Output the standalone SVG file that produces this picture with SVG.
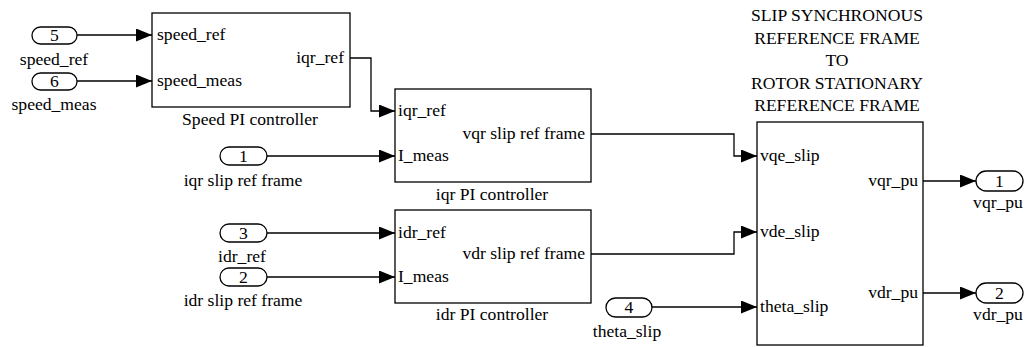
<svg xmlns="http://www.w3.org/2000/svg" width="1028" height="347" viewBox="0 0 1028 347" font-family="'Liberation Serif', 'Times New Roman', 'DejaVu Serif', serif">
<style>
text{font-family:'Liberation Serif','Times New Roman','DejaVu Serif',serif;font-size:17.6px;font-weight:normal;fill:#000}
.c{text-anchor:middle}
.r{text-anchor:end}
.box{fill:#fff;stroke:#000;stroke-width:1.3}
.pill{fill:#fff;stroke:#000;stroke-width:1.3}
.w{fill:none;stroke:#000;stroke-width:1.3}
</style>
<defs>
<marker id="ah" markerUnits="userSpaceOnUse" markerWidth="16" markerHeight="13" refX="16" refY="6.5" orient="auto">
<path d="M0,0 L16,6.5 L0,13 z" fill="#000"/>
</marker>
</defs>
<rect width="1028" height="347" fill="#fff"/>
<g id="connectors">
<path class="w" marker-end="url(#ah)" d="M77,35 H152"/>
<path class="w" marker-end="url(#ah)" d="M77,81 H152"/>
<path class="w" marker-end="url(#ah)" d="M350,58 H371 V111 H395"/>
<path class="w" marker-end="url(#ah)" d="M267,156 H395"/>
<path class="w" marker-end="url(#ah)" d="M267,233 H395"/>
<path class="w" marker-end="url(#ah)" d="M267,277 H395"/>
<path class="w" marker-end="url(#ah)" d="M591,134 H734 V156 H757"/>
<path class="w" marker-end="url(#ah)" d="M591,254 H734 V232 H757"/>
<path class="w" marker-end="url(#ah)" d="M652,307 H757"/>
<path class="w" marker-end="url(#ah)" d="M923,181 H976"/>
<path class="w" marker-end="url(#ah)" d="M923,293 H976"/>
</g>
<g id="in5">
<rect class="pill" x="32" y="27" width="45" height="17" rx="8.5"/>
<text class="c" x="54.5" y="41">5</text>
<text class="c" x="54" y="65">speed_ref</text>
</g>
<g id="in6">
<rect class="pill" x="32" y="73" width="45" height="17" rx="8.5"/>
<text class="c" x="54.5" y="87">6</text>
<text class="c" x="54" y="110">speed_meas</text>
</g>
<g id="in1">
<rect class="pill" x="220" y="147" width="47" height="18" rx="9"/>
<text class="c" x="243.5" y="162">1</text>
<text class="c" x="243" y="186">iqr slip ref frame</text>
</g>
<g id="in3">
<rect class="pill" x="220" y="224" width="47" height="18" rx="9"/>
<text class="c" x="243.5" y="239">3</text>
<text class="c" x="242" y="262">idr_ref</text>
</g>
<g id="in2">
<rect class="pill" x="220" y="268" width="47" height="18" rx="9"/>
<text class="c" x="243.5" y="283">2</text>
<text class="c" x="243" y="306">idr slip ref frame</text>
</g>
<g id="in4">
<rect class="pill" x="606" y="298" width="46" height="19" rx="9.5"/>
<text class="c" x="629" y="313">4</text>
<text class="c" x="627" y="337">theta_slip</text>
</g>
<g id="speed_pi">
<rect class="box" x="152" y="13" width="198" height="94"/>
<text x="157" y="40">speed_ref</text>
<text x="157" y="86">speed_meas</text>
<text class="r" x="344" y="63">iqr_ref</text>
<text class="c" x="250" y="125">Speed PI controller</text>
</g>
<g id="iqr_pi">
<rect class="box" x="395" y="89" width="196" height="93"/>
<text x="398" y="116">iqr_ref</text>
<text x="398" y="161">I_meas</text>
<text class="r" x="585" y="139">vqr slip ref frame</text>
<text class="c" x="492" y="200">iqr PI controller</text>
</g>
<g id="idr_pi">
<rect class="box" x="395" y="210" width="196" height="93"/>
<text x="398" y="238">idr_ref</text>
<text x="398" y="282">I_meas</text>
<text class="r" x="585" y="259">vdr slip ref frame</text>
<text class="c" x="492" y="320">idr PI controller</text>
</g>
<g id="transform">
<rect class="box" x="757" y="122" width="166" height="223"/>
<text x="760" y="161">vqe_slip</text>
<text x="760" y="237">vde_slip</text>
<text x="760" y="312">theta_slip</text>
<text class="r" x="918" y="186">vqr_pu</text>
<text class="r" x="918" y="298">vdr_pu</text>
<text class="c" x="837" y="21">SLIP SYNCHRONOUS</text>
<text class="c" x="837" y="43.5">REFERENCE FRAME</text>
<text class="c" x="837" y="66">TO</text>
<text class="c" x="837" y="88.5">ROTOR STATIONARY</text>
<text class="c" x="837" y="111">REFERENCE FRAME</text>
</g>
<g id="out1">
<rect class="pill" x="976" y="171" width="47" height="20" rx="10"/>
<text class="c" x="999.5" y="187">1</text>
<text class="c" x="998" y="208">vqr_pu</text>
</g>
<g id="out2">
<rect class="pill" x="976" y="283" width="47" height="20" rx="10"/>
<text class="c" x="999.5" y="299">2</text>
<text class="c" x="998" y="320">vdr_pu</text>
</g>
</svg>
